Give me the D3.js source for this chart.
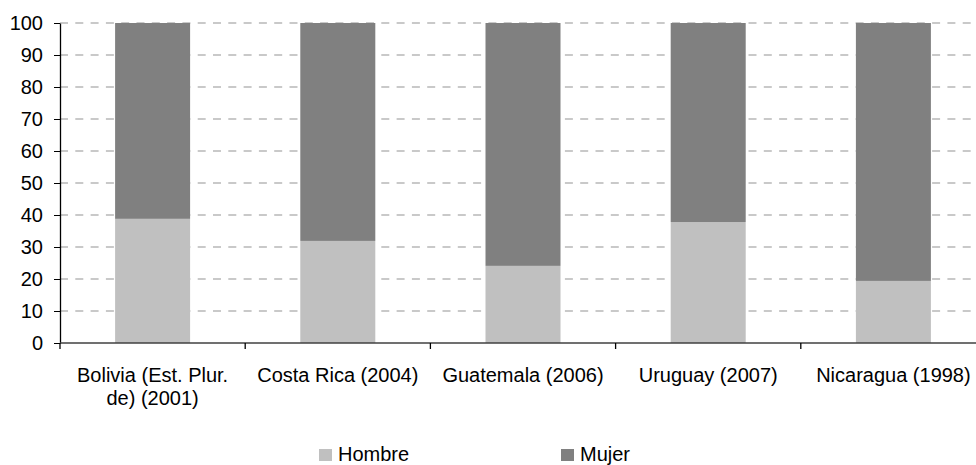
<!DOCTYPE html>
<html>
<head>
<meta charset="utf-8">
<script src="https://d3js.org/d3.v7.min.js"></script>
<style>
	body { margin: 0; background: #fff; }
	svg { display: block; overflow: hidden; }
	text { font-family: Arial, "Liberation Sans", sans-serif; font-size: 20px; fill: #000; }
</style>
</head>
<body>
<div id="chart"></div>
<script>
// categories (countries and survey year)
var categories = ['Bolivia (Est. Plur. de) (2001)', 'Costa Rica (2004)', 'Guatemala (2006)', 'Uruguay (2007)', 'Nicaragua (1998)'];
// percentage values
var hombre = [38.8, 31.9, 24.1, 37.8, 19.4];
var mujer = [61.2, 68.1, 75.9, 62.2, 80.6];
// y axis tick labels
var yTicks = [0, 10, 20, 30, 40, 50, 60, 70, 80, 90, 100];
var seriesNames = ['Hombre', 'Mujer'];
var seriesColors = ['#c0c0c0', '#808080'];

// canvas size variables
var width = 976, height = 465;
var plot = { left: 60, right: 986, top: 23, bottom: 343 };

var svg = d3.select('#chart').append('svg')
	.attr('width', width)
	.attr('height', height);

var x = d3.scaleBand()
	.domain(categories)
	.range([plot.left, plot.right])
	.paddingInner(0.595)
	.paddingOuter(0.2975);

var y = d3.scaleLinear()
	.domain([0, 100])
	.range([plot.bottom, plot.top]);

// rows for the stack layout
var rows = categories.map(function (c, i) {
	return { cat: c, Hombre: hombre[i], Mujer: mujer[i] };
});
var stacked = d3.stack().keys(seriesNames)(rows);

// dashed horizontal gridlines
svg.append('g').selectAll('line')
	.data(yTicks.filter(function (d) { return d > 0; }))
	.enter().append('line')
	.attr('x1', plot.left)
	.attr('x2', width)
	.attr('y1', function (d) { return y(d); })
	.attr('y2', function (d) { return y(d); })
	.attr('stroke', '#b8b8b8')
	.attr('stroke-width', 1.3)
	.attr('stroke-dasharray', '8,7.3');

// stacked bars
svg.append('g').selectAll('g')
	.data(stacked)
	.enter().append('g')
	.attr('fill', function (d, i) { return seriesColors[i]; })
	.selectAll('rect')
	.data(function (d) { return d; })
	.enter().append('rect')
	.attr('x', function (d) { return x(d.data.cat); })
	.attr('width', x.bandwidth())
	.attr('y', function (d) { return y(d[1]); })
	.attr('height', function (d) { return y(d[0]) - y(d[1]); });

// y axis
var yAxis = svg.append('g')
	.attr('transform', 'translate(' + plot.left + ',0)')
	.call(d3.axisLeft(y).tickValues(yTicks).tickSize(6).tickSizeOuter(0).tickPadding(11));
yAxis.select('.domain').attr('stroke', '#000').attr('stroke-width', 1.3);
yAxis.selectAll('.tick line').attr('stroke', '#000');
yAxis.attr('font-size', null).attr('font-family', null);

// x axis line and ticks at band boundaries
svg.append('line')
	.attr('x1', plot.left).attr('x2', width)
	.attr('y1', plot.bottom).attr('y2', plot.bottom)
	.attr('stroke', '#404040')
	.attr('stroke-width', 1.6);

svg.append('g').selectAll('line')
	.data(d3.range(categories.length + 1))
	.enter().append('line')
	.attr('x1', function (i) { return plot.left + i * x.step(); })
	.attr('x2', function (i) { return plot.left + i * x.step(); })
	.attr('y1', plot.bottom)
	.attr('y2', plot.bottom + 6)
	.attr('stroke', '#000')
	.attr('stroke-width', 1.3);

// category labels, wrapped to fit the band
var labels = svg.append('g').selectAll('text')
	.data(categories)
	.enter().append('text')
	.attr('text-anchor', 'middle')
	.attr('x', function (d) { return x(d) + x.bandwidth() / 2; })
	.attr('y', 382)
	.text(function (d) { return d; });

labels.each(function (d) {
	var el = d3.select(this);
	var words = d.split(' ');
	var cx = el.attr('x');
	el.text(null);
	var line = [];
	var tspan = el.append('tspan').attr('x', cx);
	words.forEach(function (w) {
		line.push(w);
		tspan.text(line.join(' '));
		if (tspan.node().getComputedTextLength() > 178 && line.length > 1) {
			line.pop();
			tspan.text(line.join(' '));
			line = [w];
			tspan = el.append('tspan').attr('x', cx).attr('dy', 23).text(w);
		}
	});
});

// legend
var legendX = [319, 561];
var legend = svg.append('g').selectAll('g')
	.data(seriesNames)
	.enter().append('g')
	.attr('transform', function (d, i) { return 'translate(' + legendX[i] + ',449)'; });
legend.append('rect')
	.attr('width', 13)
	.attr('height', 12)
	.attr('fill', function (d, i) { return seriesColors[i]; });
legend.append('text')
	.attr('x', 19)
	.attr('y', 12)
	.text(function (d) { return d; });
</script>
</body>
</html>
